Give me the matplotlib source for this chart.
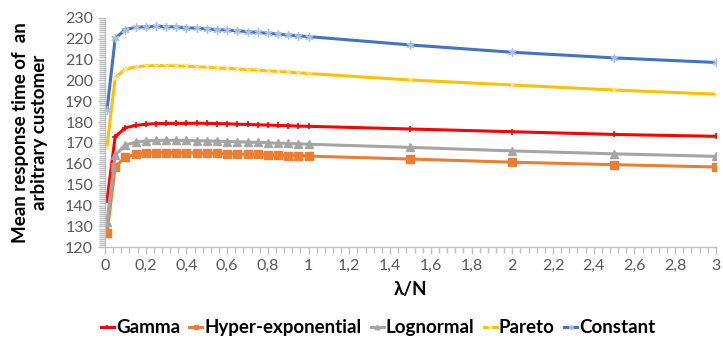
import matplotlib
matplotlib.use("Agg")
import matplotlib.pyplot as plt
from matplotlib.ticker import MultipleLocator, FuncFormatter

x = [0.01, 0.05, 0.1, 0.15, 0.2, 0.25, 0.3, 0.35, 0.4, 0.45, 0.5, 0.55, 0.6,
     0.65, 0.7, 0.75, 0.8, 0.85, 0.9, 0.95, 1.0, 1.5, 2.0, 2.5, 3.0]

gamma = [142.6, 173.0, 177.3, 178.4, 179.0, 179.3, 179.4, 179.4, 179.4, 179.5,
         179.4, 179.3, 179.2, 179.0, 178.9, 178.7, 178.6, 178.4, 178.3, 178.1,
         178.0, 176.7, 175.4, 174.1, 173.2]
hyper = [126.7, 158.6, 163.3, 164.5, 165.1, 165.3, 165.4, 165.4, 165.3, 165.2,
         165.1, 165.0, 164.9, 164.7, 164.6, 164.5, 164.3, 164.2, 164.0, 163.9,
         163.7, 162.3, 160.8, 159.6, 158.5]
lognormal = [132.3, 164.2, 169.0, 170.4, 171.0, 171.2, 171.3, 171.3, 171.2, 171.1,
             171.0, 170.9, 170.7, 170.6, 170.4, 170.3, 170.1, 169.9, 169.8, 169.6,
             169.4, 167.9, 166.2, 164.8, 163.6]
pareto = [168.2, 201.3, 205.3, 206.5, 207.0, 207.1, 207.1, 207.0, 206.8, 206.6,
          206.3, 206.0, 205.8, 205.5, 205.2, 204.9, 204.6, 204.3, 204.0, 203.7,
          203.3, 200.2, 197.8, 195.4, 193.4]
constant = [185.8, 220.1, 224.4, 225.4, 225.8, 225.9, 225.8, 225.6, 225.3, 225.0,
            224.7, 224.4, 224.1, 223.8, 223.4, 223.0, 222.6, 222.2, 221.8, 221.4,
            221.0, 217.0, 213.5, 210.8, 208.6]

series_names = ["Gamma", "Hyper-exponential", "Lognormal", "Pareto", "Constant"]

plt.rcParams['font.family'] = ['Lato', 'DejaVu Sans']

fig = plt.figure(figsize=(7.23, 3.43), dpi=100)
ax = fig.add_axes([0.1452, 0.279, 0.845, 0.669])

styles = [
    dict(color='#FF0000', marker='+', ms=5, mew=1.2, mec='#FF0000'),
    dict(color='#ED7D31', marker='s', ms=5.5, mec='#ED7D31', mfc='#ED7D31'),
    dict(color='#A5A5A5', marker='^', ms=5.5, mec='#A5A5A5', mfc='#A5A5A5'),
    dict(color='#FFC000', marker='x', ms=5, mew=1.0, mec='#FFE699'),
    dict(color='#4472C4', marker=(6, 2, 0), ms=6, mew=1.0, mec='#A9BFE8'),
]
for ys, name, st in zip([gamma, hyper, lognormal, pareto, constant], series_names, styles):
    ax.plot(x, ys, lw=2.2, label=name, **st)

ax.set_xlim(0, 3)
ax.set_ylim(120, 230)
ax.xaxis.set_major_locator(MultipleLocator(0.2))
ax.xaxis.set_minor_locator(MultipleLocator(0.04))
ax.yaxis.set_major_locator(MultipleLocator(10))
ax.yaxis.set_minor_locator(MultipleLocator(1))
ax.xaxis.set_major_formatter(FuncFormatter(lambda v, p: f"{v:.1f}".rstrip('0').rstrip('.').replace('.', ',')))

for s in ['top', 'right']:
    ax.spines[s].set_visible(False)
for s in ['left', 'bottom']:
    ax.spines[s].set_color('#BFBFBF')
    ax.spines[s].set_linewidth(1.0)
ax.tick_params(which='both', direction='out', color='#BFBFBF', labelcolor='#595959')
ax.tick_params(which='major', length=5, width=1, labelsize=11.5)
ax.tick_params(which='minor', length=4, width=1)

ax.set_xlabel("λ/N", fontsize=13.5, fontweight='bold', labelpad=6)
ax.set_ylabel("Mean response time of  an\narbitrary customer", fontsize=13.5,
              fontweight='bold', labelpad=12, linespacing=1.15)

ax.legend(loc='upper center', bbox_to_anchor=(0.447, -0.24), ncol=5, frameon=False,
          prop={'weight': 'bold', 'size': 13.5}, handlelength=0.7,
          handletextpad=0.1, columnspacing=0.5, markerscale=0.6)

fig.savefig("out.png", dpi=100)
